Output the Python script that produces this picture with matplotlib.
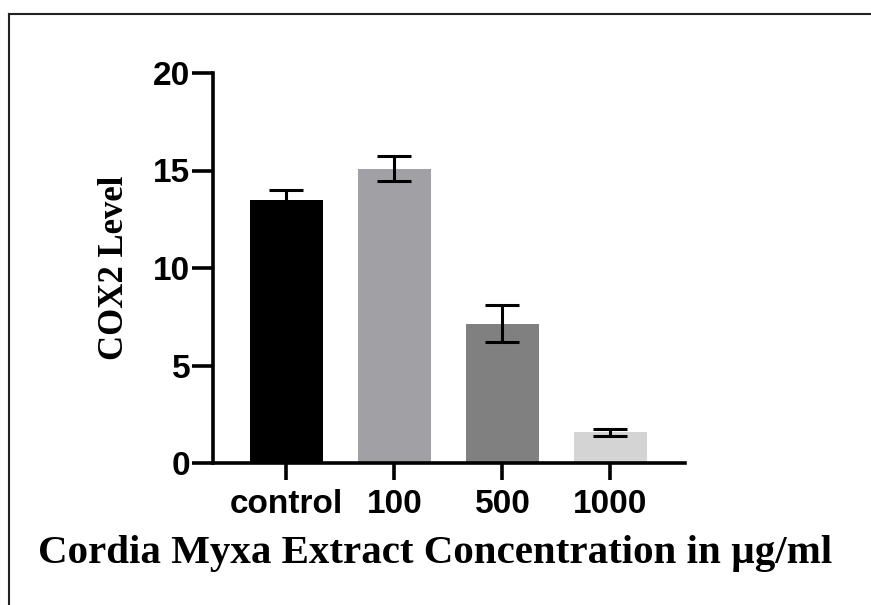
import numpy as np
from matplotlib import pyplot as plt
from matplotlib.lines import Line2D

# values
groups = ['control', '100', '500', '1000']
cox2_mean = [13.5, 15.1, 7.15, 1.57]
cox2_sem = [0.48, 0.65, 0.93, 0.16]
bar_colors = ['#000000', '#a0a0a5', '#808080', '#d4d4d4']
y_ticks = [0, 5, 10, 15, 20]


def main():
    fig = plt.figure(figsize=(8.71, 6.05), dpi=100)
    ax = fig.add_axes([213 / 871, 1 - 463 / 605, 472 / 871, 390 / 605])

    x = np.arange(len(groups))
    ax.bar(x, cox2_mean, width=0.67, color=bar_colors, zorder=2)
    ax.errorbar(x, cox2_mean, yerr=cox2_sem, fmt='none', ecolor='#000000',
                elinewidth=2.2, capsize=12.5, capthick=2.2, zorder=3)

    ax.set_xlim(-0.68, 3.69)
    ax.set_ylim(0, 20)
    ax.set_yticks(y_ticks)
    ax.set_xticks(x)
    ax.set_xticklabels(groups)

    for side in ('top', 'right'):
        ax.spines[side].set_visible(False)
    for side in ('left', 'bottom'):
        ax.spines[side].set_linewidth(2.6)

    tick_font = dict(family='Liberation Sans', weight='bold', size=24)
    for lab in ax.get_xticklabels() + ax.get_yticklabels():
        lab.set_fontproperties(tick_font)
    ax.tick_params(axis='y', length=15, width=2.6, pad=1.5)
    ax.tick_params(axis='x', length=12, width=2.6, pad=6.5)

    fig.text(114 / 871, 1 - 268 / 605, 'COX2 Level', rotation=90,
             ha='center', va='center', family='Liberation Serif',
             weight='bold', size=25)
    fig.text(435 / 871, 1 - 563 / 605,
             'Cordia Myxa Extract Concentration in µg/ml',
             ha='center', va='baseline', family='Liberation Serif',
             weight='bold', size=29.5)

    # frame around the figure (only top and left edges are visible)
    fig.add_artist(Line2D([9 / 871, 1.0], [1 - 14 / 605, 1 - 14 / 605],
                          transform=fig.transFigure, color='#222222', lw=1.5))
    fig.add_artist(Line2D([9 / 871, 9 / 871], [0.0, 1 - 14 / 605],
                          transform=fig.transFigure, color='#222222', lw=1.5))

    fig.savefig('out.png', dpi=100)


if (__name__ == '__main__'):
    main()
